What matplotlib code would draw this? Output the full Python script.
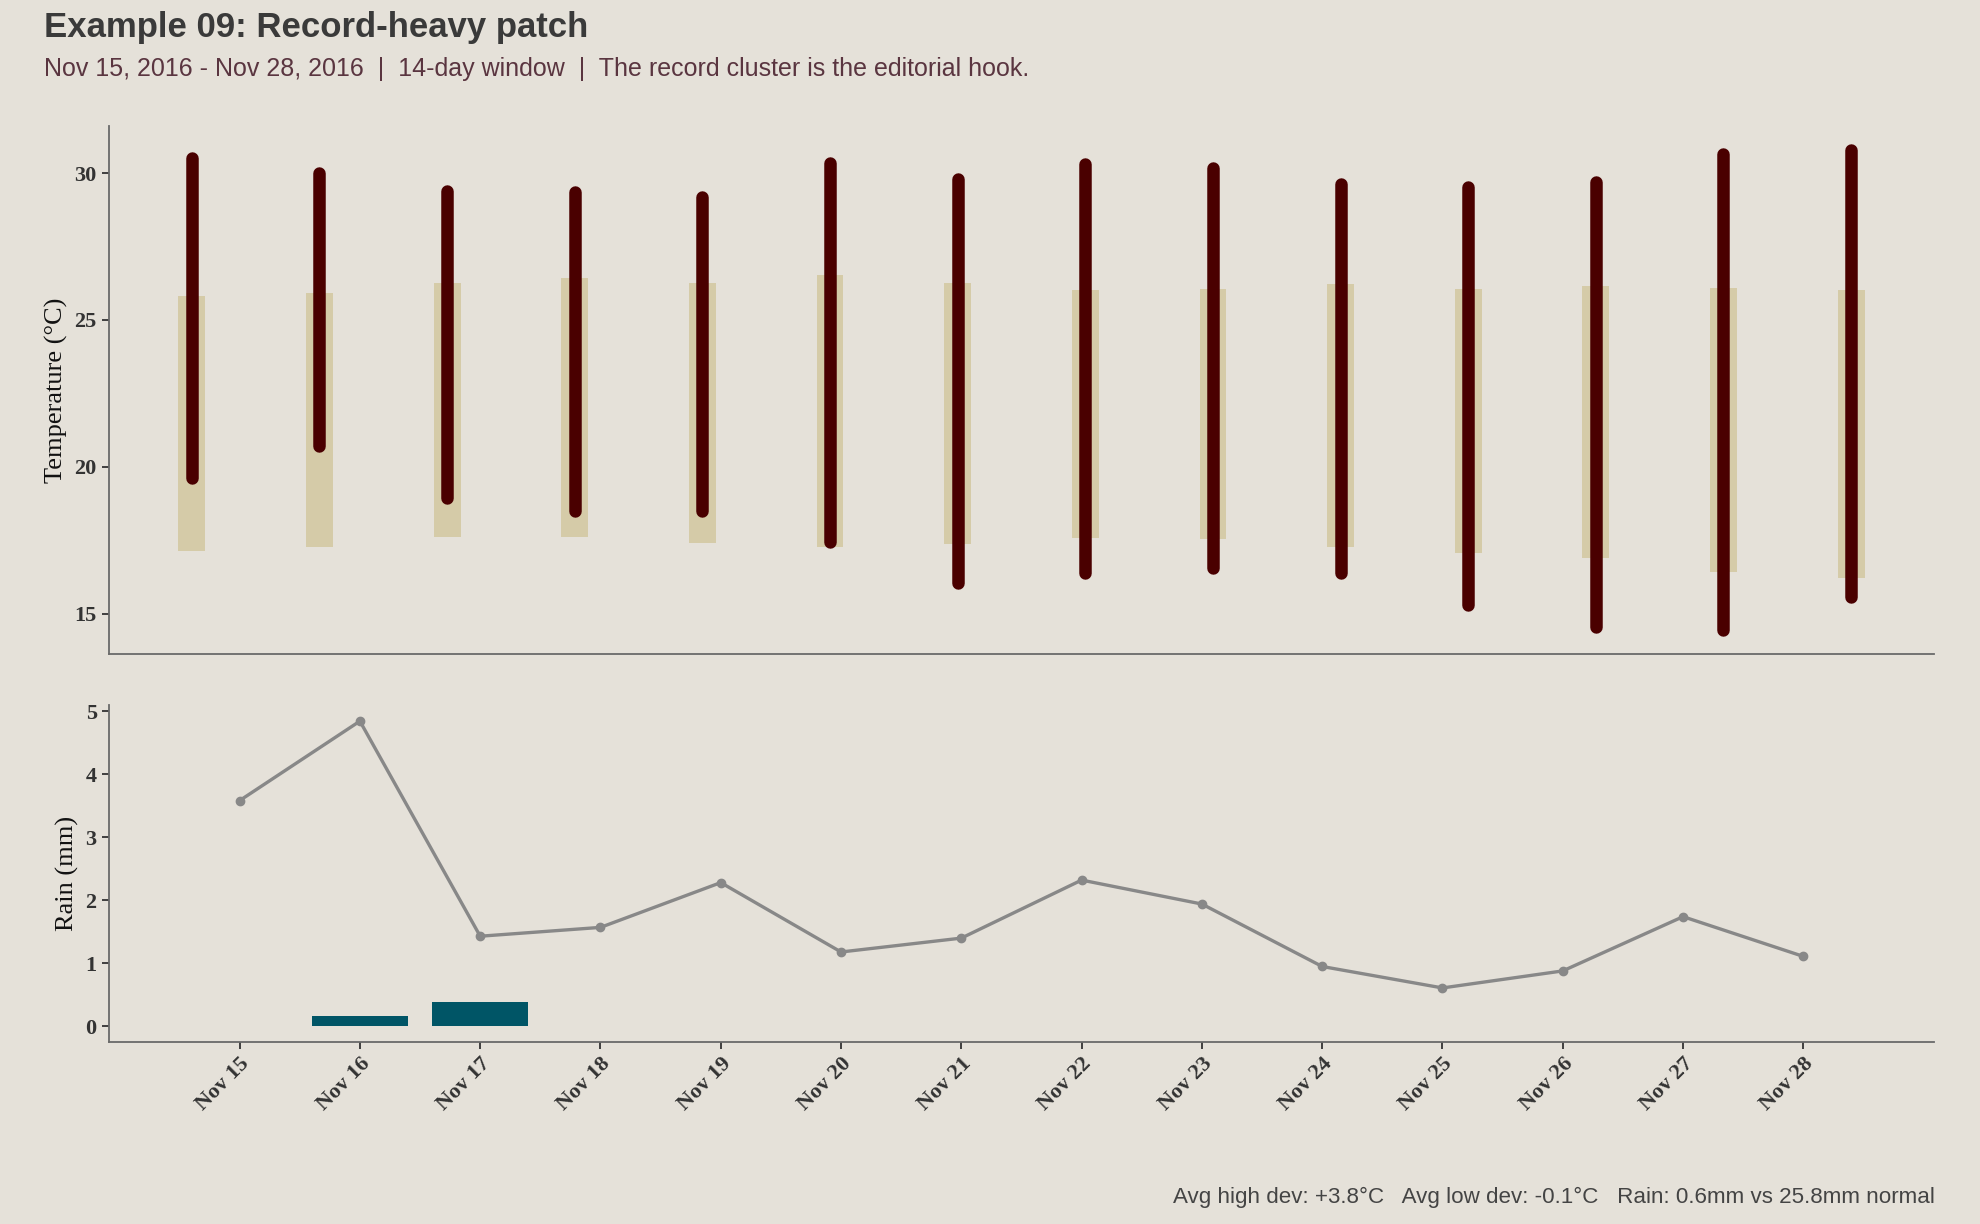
import matplotlib
matplotlib.use("Agg")
import matplotlib.pyplot as plt
import numpy as np

# ---- data ----
days = ["Nov 15", "Nov 16", "Nov 17", "Nov 18", "Nov 19", "Nov 20", "Nov 21",
        "Nov 22", "Nov 23", "Nov 24", "Nov 25", "Nov 26", "Nov 27", "Nov 28"]
actual_high = [30.50, 30.00, 29.40, 29.36, 29.19, 30.34, 29.79,
               30.30, 30.17, 29.61, 29.53, 29.70, 30.64, 30.77]
actual_low = [19.60, 20.70, 18.94, 18.50, 18.50, 17.44, 16.03,
              16.37, 16.54, 16.37, 15.30, 14.53, 14.44, 15.56]
normal_high = [25.80, 25.93, 26.27, 26.44, 26.27, 26.53, 26.27,
               26.01, 26.06, 26.23, 26.06, 26.14, 26.10, 26.01]
normal_low = [17.14, 17.27, 17.61, 17.61, 17.40, 17.27, 17.36,
              17.57, 17.53, 17.27, 17.06, 16.88, 16.41, 16.20]
rain_actual = [0.00, 0.17, 0.39, 0.00, 0.00, 0.00, 0.00,
               0.00, 0.00, 0.00, 0.00, 0.00, 0.00, 0.00]
rain_normal = [3.58, 4.84, 1.43, 1.57, 2.28, 1.18, 1.40,
               2.32, 1.94, 0.95, 0.61, 0.88, 1.74, 1.11]
temp_ticks = [15, 20, 25, 30]
rain_ticks = [0, 1, 2, 3, 4, 5]

title = "Example 09: Record-heavy patch"
subtitle = "Nov 15, 2016 - Nov 28, 2016  |  14-day window  |  The record cluster is the editorial hook."
caption = "Avg high dev: +3.8°C   Avg low dev: -0.1°C   Rain: 0.6mm vs 25.8mm normal"

# ---- style ----
BG = "#e5e1d9"
DARK = "#4a0000"
TAN = "#d5cba8"
TEAL = "#005566"
GREY_LINE = "#888888"
SPINE = "#6a6a6a"
SANS = ["Liberation Sans", "DejaVu Sans"]
SERIF = ["Liberation Serif", "DejaVu Serif"]

fig = plt.figure(figsize=(19.8, 12.24), dpi=100, facecolor=BG)

ax1 = fig.add_axes([0.0548, 0.4656, 0.9222, 0.4312], facecolor=BG)
ax2 = fig.add_axes([0.0548, 0.1489, 0.9222, 0.2755], facecolor=BG)

x = np.arange(len(days))

# top: temperature
nh = np.array(normal_high)
nl = np.array(normal_low)
ax1.bar(x, nh - nl, bottom=nl, width=0.21, color=TAN, zorder=1)
lc = ax1.vlines(x, actual_low, actual_high, color=DARK, linewidth=9, zorder=2)
lc.set_capstyle("round")
ax1.set_xlim(-0.653, 13.653)
ax1.set_ylim(13.62, 31.59)
ax1.set_yticks(temp_ticks)
ax1.set_xticks([])
ax1.set_ylabel("Temperature (°C)", family=SERIF, fontsize=19, color="#111111",
               labelpad=4.5)

# bottom: rain
ax2.bar(x, rain_actual, width=0.8, color=TEAL, zorder=1)
ax2.plot(x, rain_normal, color=GREY_LINE, linewidth=2.4, marker="o",
         markersize=6, zorder=2)
ax2.set_xlim(-1.09, 14.09)
ax2.set_ylim(-0.243, 5.103)
ax2.set_yticks(rain_ticks)
ax2.set_xticks(x)
ax2.set_xticklabels(days, rotation=45, ha="right", va="top",
                    rotation_mode="anchor")
ax2.set_ylabel("Rain (mm)", family=SERIF, fontsize=19, color="#111111",
               labelpad=4.5)

for ax in (ax1, ax2):
    for s in ("top", "right"):
        ax.spines[s].set_visible(False)
    for s in ("left", "bottom"):
        ax.spines[s].set_color(SPINE)
        ax.spines[s].set_linewidth(1.3)
    ax.tick_params(axis="both", colors="#333333", length=5, width=1.3,
                   labelsize=16)
    for lab in ax.get_yticklabels() + ax.get_xticklabels():
        lab.set_fontfamily(SERIF)
        lab.set_fontweight("bold")
        lab.set_color("#333333")
ax1.tick_params(axis="x", length=0)
fig.align_ylabels([ax1, ax2])

fig.text(44 / 1980, 1 - 28 / 1224, title, family=SANS, fontsize=25,
         fontweight="bold", color="#3a3a3a", ha="left", va="center")
fig.text(44 / 1980, 1 - 69 / 1224, subtitle, family=SANS, fontsize=18,
         color="#5a3540", ha="left", va="center")
fig.text(1934.6 / 1980, 1 - 1197 / 1224, caption, family=SANS, fontsize=16.1,
         color="#444444", ha="right", va="center")

fig.savefig("out.png", dpi=100, facecolor=BG)
